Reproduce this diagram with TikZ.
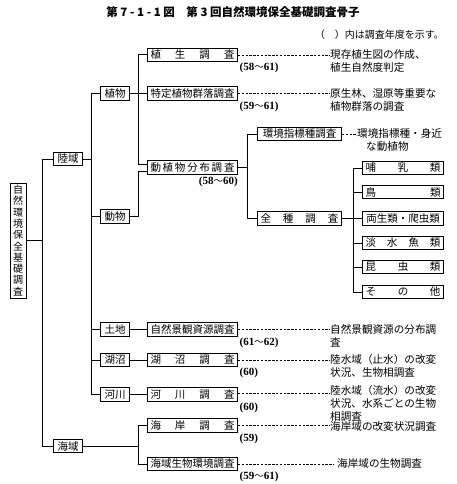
\documentclass[tikz,border=0pt]{standalone}
\usepackage{fontspec}
\setmainfont{Noto Sans CJK JP}
\newfontfamily\yrfont{Liberation Serif}
\usetikzlibrary{calc}
\newcommand{\spr}[2]{\makebox[#1]{#2}}
\newcommand{\yrs}[2]{{\yrfont\bfseries (#1}{\fontsize{9.5pt}{11pt}\selectfont ～}{\yrfont\bfseries #2)}}
\newcommand{\yro}[1]{{\yrfont\bfseries (#1)}}
\begin{document}
\begin{tikzpicture}[x=1pt,y=-1pt,
  every node/.style={inner sep=0pt},
  ln/.style={line width=1pt},
  bx/.style={draw, line width=1pt, anchor=west, minimum height=13.5pt, inner xsep=3pt,
    font=\fontsize{10.5pt}{12pt}\selectfont},
  sbx/.style={bx, inner xsep=4pt},
  dsh/.style={line width=0.7pt, dash pattern=on 2.4pt off 1.4pt},
  desc/.style={anchor=north west, align=left, font=\fontsize{10.6pt}{13pt}\selectfont},
  yr/.style={anchor=north west, font=\fontsize{11pt}{12pt}\selectfont},
]
\useasboundingbox (0,0) rectangle (456,484);

% title
\node (title) at (233,12) {\fontsize{11.5pt}{13pt}\selectfont\bfseries 第 7 - 1 - 1 図\quad 第 3 回自然環境保全基礎調査骨子};
\node[anchor=east] (note) at (444,35) {\fontsize{10pt}{12pt}\selectfont （　）内は調査年度を示す。};

% root
\node[draw, line width=1pt, minimum width=16pt, minimum height=115pt, align=center,
  font=\fontsize{10pt}{11.3pt}\selectfont] (root) at (18,240.5)
  {自\\然\\環\\境\\保\\全\\基\\礎\\調\\査};

% level 1
\node[sbx] (riku) at (53,159) {陸域};
\node[sbx] (kai) at (53,446) {海域};

% level 2
\node[sbx] (shoku) at (100,93.5) {植物};
\node[sbx] (dobu) at (100,216.5) {動物};
\node[sbx] (tochi) at (100,329.5) {土地};
\node[sbx] (kosho) at (100,360) {湖沼};
\node[sbx] (kasen) at (100,394.5) {河川};

% level 3
\node[bx] (shokusei) at (147,55) {\spr{84pt}{植\hfill 生\hfill 調\hfill 査}};
\node[bx] (tokutei) at (147,93.5) {\spr{84pt}{特定植物群落調査}};
\node[bx] (dosho) at (147,167.5) {\spr{84pt}{動\hfill 植\hfill 物\hfill 分\hfill 布\hfill 調\hfill 査}};
\node[bx] (shizen) at (147,329.5) {\spr{84pt}{自然景観資源調査}};
\node[bx] (koshoc) at (147,360) {\spr{84pt}{湖\hfill 沼\hfill 調\hfill 査}};
\node[bx] (kasenc) at (147,394.5) {\spr{84pt}{河\hfill 川\hfill 調\hfill 査}};
\node[bx] (kaigan) at (147,425.5) {\spr{84pt}{海\hfill 岸\hfill 調\hfill 査}};
\node[bx] (kaiiki) at (147,464) {\spr{84pt}{海域生物環境調査}};

% level 3b
\node[bx] (shihyo) at (257,134) {\spr{78pt}{環境指標種調査}};
\node[bx] (zenshu) at (257,218.5) {\spr{78pt}{全\hfill 種\hfill 調\hfill 査}};

% level 4
\node[bx] (honyu) at (362,168) {\spr{75pt}{哺\hfill 乳\hfill 類}};
\node[bx] (tori) at (362,192) {\spr{75pt}{鳥\hfill 類}};
\node[bx] (ryosei) at (362,218.5) {\spr{75pt}{両生類・爬虫類}};
\node[bx] (tansui) at (362,243) {\spr{75pt}{淡\hfill 水\hfill 魚\hfill 類}};
\node[bx] (konchu) at (362,267) {\spr{75pt}{昆\hfill 虫\hfill 類}};
\node[bx] (sonota) at (362,292) {\spr{75pt}{そ\hfill の\hfill 他}};

% connectors: tree
\draw[ln] (root.east) -- ([xshift=-11pt]riku.west |- root.east) |- (riku.west);
\draw[ln] (root.east) -- ([xshift=-11pt]riku.west |- root.east) |- (kai.west);
\foreach \c in {shoku,dobu,tochi,kosho,kasen}
  \draw[ln] (riku.east) -- ([xshift=-9pt]shoku.west |- riku.east) |- (\c.west);
\foreach \c in {shokusei,tokutei}
  \draw[ln] (shoku.east) -- ([xshift=-9pt]\c.west |- shoku.east) |- (\c.west);
\draw[ln] (shoku.east) -- ([xshift=-9pt]dosho.west |- shoku.east) |- ([yshift=3pt]dosho.west);
\draw[ln] (dobu.east) -- ([xshift=-9pt]dosho.west |- dobu.east) |- ([yshift=-3.5pt]dosho.west);
\foreach \c in {shihyo,zenshu}
  \draw[ln] (dosho.east) -- ([xshift=-10pt]\c.west |- dosho.east) |- (\c.west);
\foreach \c in {honyu,tori,ryosei,tansui,konchu,sonota}
  \draw[ln] (zenshu.east) -- ([xshift=-9pt]\c.west |- zenshu.east) |- (\c.west);
\draw[ln] (tochi.east) -- (shizen.west);
\draw[ln] (kosho.east) -- (koshoc.west);
\draw[ln] (kasen.east) -- (kasenc.west);
\foreach \c in {kaigan,kaiiki}
  \draw[ln] (kai.east) -- ([xshift=-9pt]\c.west |- kai.east) |- (\c.west);

% years
\node[yr] (y1) at ([xshift=1.5pt,yshift=-0.5pt]shokusei.south east) {\yrs{58}{61}};
\node[yr] (y2) at ([xshift=1.5pt,yshift=-0.5pt]tokutei.south east) {\yrs{59}{61}};
\node[yr, anchor=north east] (y3) at ([yshift=-2pt]dosho.south east) {\yrs{58}{60}};
\node[yr] (y4) at ([xshift=1.5pt,yshift=-0.5pt]shizen.south east) {\yrs{61}{62}};
\node[yr] (y5) at ([xshift=1.5pt,yshift=-0.5pt]koshoc.south east) {\yro{60}};
\node[yr] (y6) at ([xshift=1.5pt,yshift=-0.5pt]kasenc.south east) {\yro{60}};
\node[yr] (y7) at ([xshift=1.5pt,yshift=-0.5pt]kaigan.south east) {\yro{59}};
\node[yr] (y8) at ([xshift=1.5pt,yshift=-0.5pt]kaiiki.south east) {\yrs{59}{61}};

% descriptions
\node[desc] (d1) at (330,49.5) {現存植生図の作成、\\植生自然度判定};
\node[desc] (d2) at (330,88) {原生林、湿原等重要な\\植物群落の調査};
\node[desc] (d3) at (357,128.5) {環境指標種・身近\\\hspace*{9pt}な動植物};
\node[desc] (d4) at (330,324) {自然景観資源の分布調\\査};
\node[desc] (d5) at (330,354.5) {陸水域（止水）の改変\\状況、生物相調査};
\node[desc] (d6) at (330,385.5) {陸水域（流水）の改変\\状況、水系ごとの生物\\相調査};
\node[desc] (d7) at (330,421) {海岸域の改変状況調査};
\node[desc] (d8) at (337,458.5) {海岸域の生物調査};

\draw[dsh] (shokusei.east) -- (shokusei.east -| d1.west);
\draw[dsh] (tokutei.east) -- (tokutei.east -| d2.west);
\draw[dsh] (shihyo.east) -- (shihyo.east -| d3.west);
\draw[dsh] (shizen.east) -- (shizen.east -| d4.west);
\draw[dsh] (koshoc.east) -- (koshoc.east -| d5.west);
\draw[dsh] ([yshift=1.5pt]kasenc.east) -- ([yshift=1.5pt]kasenc.east -| d6.west);
\draw[dsh] (kaigan.east) -- (kaigan.east -| d7.west);
\draw[dsh] (kaiiki.east) -- ([xshift=-3pt]kaiiki.east -| d8.west);
\end{tikzpicture}
\end{document}
